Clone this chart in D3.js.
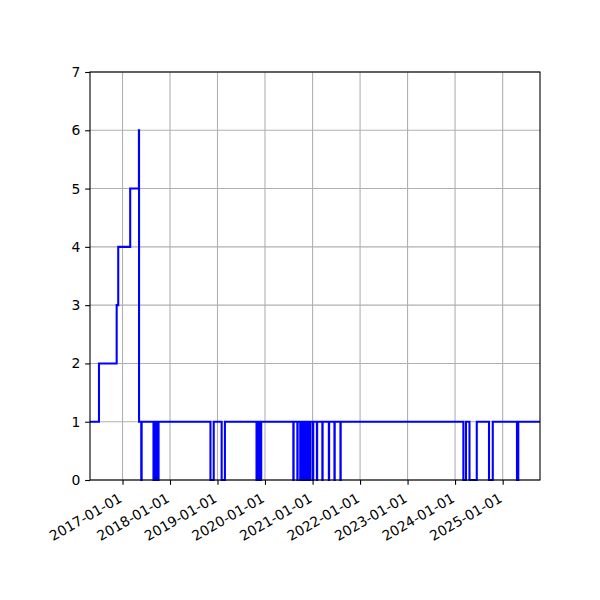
<!DOCTYPE html>
<html>
<head>
<meta charset="utf-8">
<script src="https://cdn.jsdelivr.net/npm/d3@7/dist/d3.min.js"></script>
<style>
  html, body { margin: 0; padding: 0; background: #fff; }
  svg { display: block; font-family: "DejaVu Sans", sans-serif; }
</style>
</head>
<body>
<svg id="chart" width="600" height="600"></svg>
<script>
// ---- data (step-after: each value holds until the next date) ----
const dates = [
  "2016-04-26","2016-07-04","2016-11-17","2016-11-29","2017-03-01","2017-05-07","2017-05-08",
  "2017-05-25","2017-05-28",
  "2017-08-27","2017-09-02","2017-09-08","2017-09-14","2017-09-20","2017-09-26","2017-09-30","2017-10-05",
  "2018-11-08","2018-12-03",
  "2019-02-02","2019-02-27",
  "2019-10-28","2019-11-03","2019-11-09","2019-11-15","2019-11-21","2019-11-27","2019-11-29","2019-12-03",
  "2020-08-06","2020-08-08",
  "2020-09-06","2020-09-08",
  "2020-09-28","2020-09-30",
  "2020-10-12","2020-10-14",
  "2020-10-26","2020-11-01","2020-11-06","2020-11-12","2020-11-17","2020-11-23","2020-11-28","2020-12-04","2020-12-09","2020-12-16",
  "2021-01-04","2021-01-06",
  "2021-02-03","2021-02-05",
  "2021-03-17","2021-03-19",
  "2021-05-06","2021-05-08",
  "2021-06-18","2021-06-20",
  "2021-08-03","2021-08-05",
  "2024-03-05","2024-03-25","2024-04-21","2024-06-16",
  "2024-09-18","2024-10-17",
  "2025-04-21","2025-05-01",
  "2025-10-15"
];
const counts = [
  1,2,3,4,5,6,1,
  0,1,
  0,1,0,1,0,1,0,1,
  0,1,
  0,1,
  0,1,0,1,0,1,0,1,
  0,1,
  0,1,
  0,1,
  0,1,
  0,1,0,1,0,1,0,1,0,1,
  0,1,
  0,1,
  0,1,
  0,1,
  0,1,
  0,1,
  0,1,0,1,
  0,1,
  0,1,
  1
];
const xTickLabels = ["2017-01-01","2018-01-01","2019-01-01","2020-01-01","2021-01-01","2022-01-01","2023-01-01","2024-01-01","2025-01-01"];
const yTicks = [0,1,2,3,4,5,6,7];
const xStart = "2016-04-26", xEnd = "2025-10-15";

// ---- layout ----
const parse = d3.utcParse("%Y-%m-%d");
const L = 90, R = 540, T = 72, B = 480;
const svg = d3.select("#chart");

const x = d3.scaleUtc().domain([parse(xStart), parse(xEnd)]).range([L, R]);
const y = d3.scaleLinear().domain([0, 7]).range([B, T]);

const data = dates.map((d, i) => ({ date: parse(d), v: counts[i] }));
const xTicks = xTickLabels.map(parse);

// grid
const grid = svg.append("g");
grid.selectAll("line.gx").data(xTicks).enter().append("line")
  .attr("x1", d => x(d)).attr("x2", d => x(d)).attr("y1", T).attr("y2", B)
  .attr("stroke", "#b0b0b0").attr("stroke-width", 1.1);
grid.selectAll("line.gy").data(yTicks).enter().append("line")
  .attr("x1", L).attr("x2", R).attr("y1", d => y(d)).attr("y2", d => y(d))
  .attr("stroke", "#b0b0b0").attr("stroke-width", 1.1);

// line
const line = d3.line().x(d => x(d.date)).y(d => y(d.v)).curve(d3.curveStepAfter);
svg.append("path").datum(data)
  .attr("d", line)
  .attr("fill", "none")
  .attr("stroke", "#0000ff")
  .attr("stroke-width", 2.08)
  .attr("stroke-linejoin", "miter");

// spines
svg.append("rect").attr("x", L).attr("y", T).attr("width", R - L).attr("height", B - T)
  .attr("fill", "none").attr("stroke", "#000").attr("stroke-width", 1.1);

// y axis
const yAxis = svg.append("g").attr("transform", `translate(${L},0)`)
  .call(d3.axisLeft(y).tickValues(yTicks).tickSize(4.86).tickPadding(4.86).tickFormat(d3.format("d")));
yAxis.select(".domain").remove();
yAxis.selectAll(".tick line").attr("stroke", "#000").attr("stroke-width", 1.1);
yAxis.selectAll(".tick text").attr("font-size", "13.9px").attr("font-family", "DejaVu Sans").attr("fill", "#000");

// x axis
const xAxis = svg.append("g").attr("transform", `translate(0,${B})`)
  .call(d3.axisBottom(x).tickValues(xTicks).tickSize(4.86).tickFormat(d3.utcFormat("%Y-%m-%d")));
xAxis.select(".domain").remove();
xAxis.selectAll(".tick line").attr("stroke", "#000").attr("stroke-width", 1.1);
xAxis.selectAll(".tick text")
  .attr("font-size", "13.9px").attr("font-family", "DejaVu Sans").attr("fill", "#000")
  .attr("text-anchor", "end")
  .attr("dy", null)
  .attr("y", null)
  .attr("transform", "translate(0,21) rotate(-30)");
</script>
</body>
</html>
